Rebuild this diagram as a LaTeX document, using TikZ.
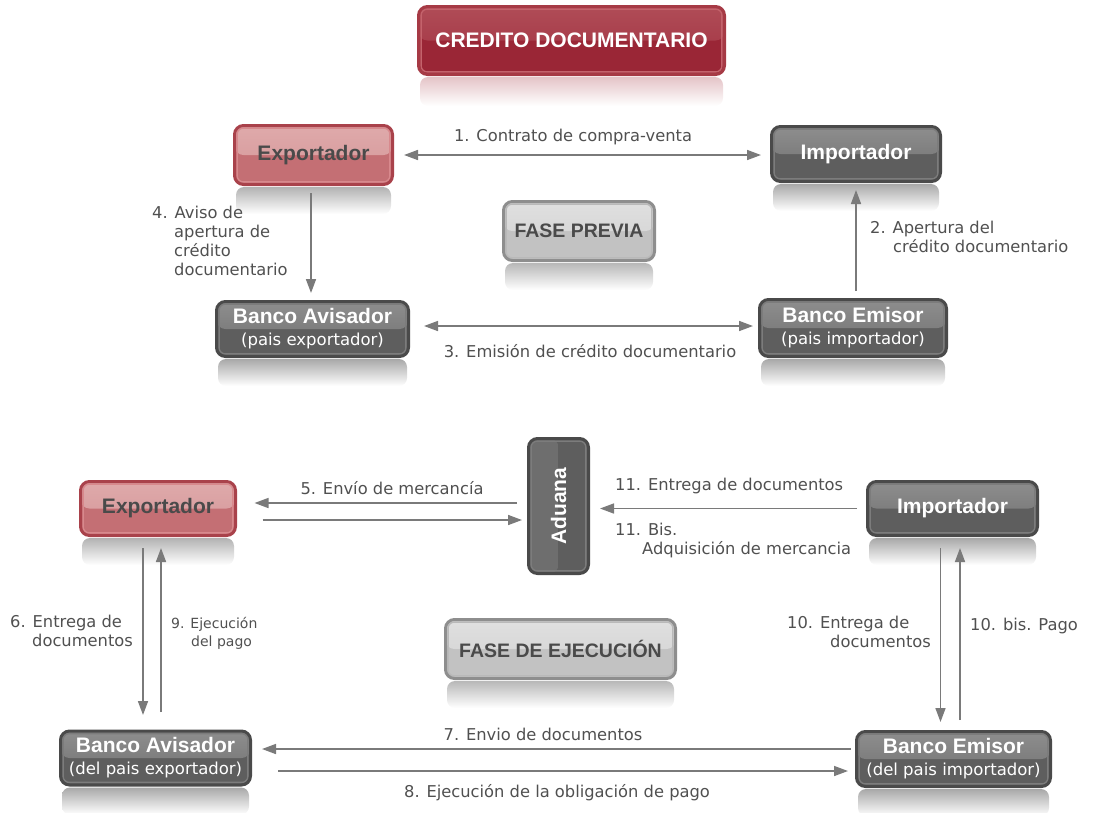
\documentclass[tikz,border=0pt]{standalone}
\usepackage{fontspec}
\setmainfont{DejaVu Sans}
\newfontfamily\headfont{Liberation Sans}
\usetikzlibrary{arrows.meta,calc}

% palettes: border, inner ring, gloss top, gloss bottom, body
\definecolor{redB}{HTML}{A9424B}\definecolor{redR}{HTML}{D8898D}
\definecolor{redT}{HTML}{DFAAAB}\definecolor{redM}{HTML}{D49597}\definecolor{redF}{HTML}{C46F74}
\definecolor{ttlB}{HTML}{A63A45}\definecolor{ttlR}{HTML}{C4636C}
\definecolor{ttlT}{HTML}{B04C57}\definecolor{ttlM}{HTML}{A03140}\definecolor{ttlF}{HTML}{9A2636}
\definecolor{drkB}{HTML}{4A4A4A}\definecolor{drkR}{HTML}{7C7C7C}
\definecolor{drkT}{HTML}{8E8E8E}\definecolor{drkM}{HTML}{6E6E6E}\definecolor{drkF}{HTML}{5E5E5E}
\definecolor{lgtB}{HTML}{8E8E8E}\definecolor{lgtR}{HTML}{B9B9B9}
\definecolor{lgtT}{HTML}{E0E0E0}\definecolor{lgtM}{HTML}{D0D0D0}\definecolor{lgtF}{HTML}{C2C2C2}
\definecolor{txtgray}{HTML}{4A4A4A}
\definecolor{lblgray}{HTML}{505050}
\definecolor{arrgray}{HTML}{7A7A7A}

\tikzset{
  gbox/.style n args={5}{draw=#1, line width=3pt, fill=#5, rounded corners=9pt,
    inner sep=0pt, align=center,
    path picture={
      \shade[draw=none, top color=#3, bottom color=#4]
        (path picture bounding box.north west) rectangle (path picture bounding box.east);
      \draw[#2, fill=none, line width=1.4pt, rounded corners=6pt]
        ([shift={(2.6pt,-2.6pt)}]path picture bounding box.north west) rectangle
        ([shift={(-2.6pt,2.6pt)}]path picture bounding box.south east);
    }},
  vbox/.style n args={5}{draw=#1, line width=3pt, fill=#5, rounded corners=9pt,
    inner sep=0pt, align=center,
    path picture={
      \shade[draw=none, left color=#3, right color=#4]
        (path picture bounding box.north west) rectangle (path picture bounding box.south);
      \draw[#2, fill=none, line width=1.4pt, rounded corners=6pt]
        ([shift={(2.6pt,-2.6pt)}]path picture bounding box.north west) rectangle
        ([shift={(-2.6pt,2.6pt)}]path picture bounding box.south east);
    }},
  headtxt/.style={font=\headfont\bfseries\fontsize{21}{23}\selectfont},
  titlebox/.style={gbox={ttlB}{ttlR}{ttlT}{ttlM}{ttlF}, text=white,
    font=\headfont\bfseries\fontsize{21}{23}\selectfont},
  redbox/.style={gbox={redB}{redR}{redT}{redM}{redF}, text=txtgray, headtxt},
  darkbox/.style={gbox={drkB}{drkR}{drkT}{drkM}{drkF}, text=white, headtxt},
  phasebox/.style={gbox={lgtB}{lgtR}{lgtT}{lgtM}{lgtF}, text=txtgray,
    font=\headfont\bfseries\fontsize{19.5}{22}\selectfont},
  sidebox/.style={vbox={drkB}{drkR}{drkM}{drkM}{drkF}, text=white, headtxt},
  lbl/.style={inner sep=0pt, text=lblgray, align=left,
    font=\fontsize{16.3}{19}\selectfont},
  arr/.style={draw=arrgray, line width=1.6pt,
    -{Triangle[length=14pt,width=10pt]}},
  twoway/.style={draw=arrgray, line width=1.6pt,
    {Triangle[length=14pt,width=10pt]}-{Triangle[length=14pt,width=10pt]}},
  mirror/.style={top color=#1, bottom color=white, rounded corners=8pt},
}

\newcommand{\bnk}[2]{{\headfont\bfseries\fontsize{21}{22}\selectfont #1}\\[-1pt]{\normalfont\fontsize{16.5}{18}\selectfont #2}}

\begin{document}
\begin{tikzpicture}[x=1pt,y=-1pt]
\useasboundingbox (0,0) rectangle (1093,812);

% ---------- boxes ----------
\node[titlebox, minimum width=306pt, minimum height=68pt] (title) at (571.5,40.5) {CREDITO DOCUMENTARIO};

\node[redbox,  minimum width=158pt, minimum height=59pt] (expA) at (313.5,155) {Exportador};
\node[darkbox, minimum width=169pt, minimum height=55pt] (impA) at (856,154) {Importador};
\node[phasebox,minimum width=151pt, minimum height=59pt] (faseA) at (579,231) {FASE PREVIA};
\node[darkbox, minimum width=192pt, minimum height=55pt] (bavA) at (312.5,329) {\bnk{Banco Avisador}{(pais exportador)}};
\node[darkbox, minimum width=187pt, minimum height=57pt] (bemA) at (853,328) {\bnk{Banco Emisor}{(pais importador)}};

\node[sidebox, minimum width=60pt, minimum height=135pt] (aduana) at (558.5,506) {\rotatebox{90}{Aduana}};
\node[redbox,  minimum width=155pt, minimum height=54pt] (expB) at (158,508.5) {Exportador};
\node[darkbox, minimum width=170pt, minimum height=54pt] (impB) at (952.5,508.5) {Importador};
\node[phasebox,minimum width=230pt, minimum height=59pt] (faseB) at (560.5,649) {FASE DE EJECUCIÓN};
\node[darkbox, minimum width=190pt, minimum height=54pt] (bavB) at (155.5,758) {\bnk{Banco Avisador}{(del pais exportador)}};
\node[darkbox, minimum width=194pt, minimum height=55pt] (bemB) at (953.5,759) {\bnk{Banco Emisor}{(del pais importador)}};

% ---------- mirror reflections under the boxes ----------
\shade[mirror=ttlB!30!white]
  ([xshift=3pt,yshift=-1pt]title.south west) rectangle ([xshift=-3pt,yshift=-30pt]title.south east);
\foreach \n/\c in {expA/30, impA/34, faseA/28, bavA/34, bemA/34,
                   expB/30, impB/34, faseB/28, bavB/34, bemB/34}{
  \shade[mirror=black!\c!white]
    ([xshift=3pt,yshift=-1pt]\n.south west) rectangle ([xshift=-3pt,yshift=-28pt]\n.south east);
}

% ---------- connectors: preliminary phase ----------
\draw[twoway, shorten <=10pt, shorten >=9pt] (expA.east) -- (expA.east -| impA.west);
\draw[arr, shorten <=7pt, shorten >=7pt] ($(expA.south)+(-2.5,0)$) -- ($(expA.south |- bavA.north)+(-2.5,0)$);
\draw[arr, shorten <=7pt, shorten >=7pt] (bemA.north -| impA.south) -- (impA.south);
\draw[twoway, shorten <=14pt, shorten >=5pt] ($(bavA.east)+(0,-3)$) -- ($(bavA.east -| bemA.west)+(0,-3)$);

% ---------- connectors: execution phase ----------
\draw[arr, shorten <=10pt, shorten >=17.5pt] ($(aduana.west |- expB.east)+(0,-5.5)$) -- ($(expB.east)+(0,-5.5)$);
\draw[arr, shorten <=25.5pt, shorten >=5pt] ($(expB.east)+(0,11.5)$) -- ($(aduana.west |- expB.east)+(0,11.5)$);
\draw[arr, shorten <=9pt, shorten >=10pt] (impB.west) -- (impB.west -| aduana.east);

\draw[arr, shorten <=11pt, shorten >=14.5pt] ($(expB.south)+(-15,0)$) -- ($(bavB.north -| expB.south)+(-15,0)$);
\draw[arr, shorten <=17.5pt, shorten >=11pt] ($(bavB.north -| expB.south)+(3,0)$) -- ($(expB.south)+(3,0)$);

\draw[arr, shorten <=11pt, shorten >=8pt] ($(impB.south)+(-12,0)$) -- ($(bemB.north -| impB.south)+(-12,0)$);
\draw[arr, shorten <=10pt, shorten >=11pt] ($(bemB.north -| impB.south)+(7.5,0)$) -- ($(impB.south)+(7.5,0)$);

\draw[arr, shorten <=4pt, shorten >=10pt] ($(bemB.west)+(0,-10)$) -- ($(bemB.west -| bavB.east)+(0,-10)$);
\draw[arr, shorten <=26pt, shorten >=7pt] ($(bemB.west -| bavB.east)+(0,12)$) -- ($(bemB.west)+(0,12)$);

% ---------- labels ----------
\node[lbl] (l1) at (573,137) {1. Contrato de compra-venta};
\node[lbl, anchor=north west] (l4) at (152,206) {4. Aviso de\\\hspace*{22pt}apertura de\\\hspace*{22pt}crédito\\\hspace*{22pt}documentario};
\node[lbl, anchor=north west] (l2) at (870,221) {2. Apertura del\\\hspace*{23pt}crédito documentario};
\node[lbl] (l3) at (590,351) {3. Emisión de crédito documentario};

\node[lbl] (l5) at (392,488) {5. Envío de mercancía};
\node[lbl, anchor=west] (l11) at (615,486) {11. Entrega de documentos};
\node[lbl, anchor=north west] (l11b) at (615,523) {11. Bis.\\\hspace*{27pt}Adquisición de mercancia};
\node[lbl, anchor=north west] (l6) at (10,615) {6. Entrega de\\\hspace*{22pt}documentos};
\node[lbl, anchor=north west, font=\fontsize{14}{18}\selectfont] (l9) at (171,617) {9. Ejecución\\\hspace*{20pt}del pago};
\node[lbl, anchor=north west] (l10) at (787,616) {10. Entrega de\\\hspace*{43pt}documentos};
\node[lbl, anchor=west] (l10b) at (970,626) {10. bis. Pago};
\node[lbl] (l7) at (543,734) {7. Envio de documentos};
\node[lbl] (l8) at (557,793) {8. Ejecución de la obligación de pago};
\end{tikzpicture}
\end{document}
